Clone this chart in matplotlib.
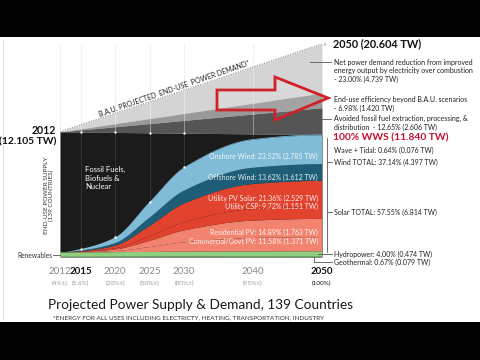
import numpy as np
import matplotlib
matplotlib.use("Agg")
import matplotlib.pyplot as plt
from matplotlib.patches import Polygon, Rectangle
from matplotlib.transforms import blended_transform_factory

plt.rcParams['font.family'] = ['Lato', 'DejaVu Sans']

# ---------------- data ----------------
years = [2012, 2015, 2020, 2025, 2030, 2040, 2050]
year_labels = ["2012", "2015", "2020", "2025", "2030", "2040", "2050"]
pct_labels = ["(4%±)", "(5.6%)", "(20%±)", "(50%±)", "(80%±)", "(95%±)", "(100%)"]

geothermal = [0.02, 0.02, 0.03, 0.04, 0.06, 0.07, 0.079]
hydropower = [0.42, 0.43, 0.44, 0.45, 0.46, 0.47, 0.474]
commercial_pv = [0.00, 0.02, 0.11, 0.47, 0.90, 1.30, 1.371]
residential_pv = [0.00, 0.03, 0.15, 0.60, 1.15, 1.68, 1.763]
utility_csp = [0.00, 0.02, 0.11, 0.45, 0.80, 1.11, 1.151]
utility_pv = [0.00, 0.04, 0.25, 1.00, 1.80, 2.43, 2.529]
offshore_wind = [0.00, 0.06, 0.25, 0.80, 1.25, 1.57, 1.612]
onshore_wind = [0.00, 0.15, 0.55, 1.50, 2.20, 2.70, 2.785]
wave_tidal = [0.00, 0.00, 0.005, 0.02, 0.05, 0.07, 0.076]

demand_years = [2012, 2050]
supply_total = [12.105, 11.840]
avoided_fossil = [0.0, 2.606]
end_use_eff = [0.0, 1.420]
net_reduction = [0.0, 4.739]

# ---------------- figure ----------------
W, H = 480, 360
fig = plt.figure(figsize=(4.8, 3.6), dpi=100, facecolor='black')
fig.patches.append(Rectangle((0, 38 / H), 1, 285 / H, transform=fig.transFigure,
                             facecolor='white', edgecolor='none', zorder=-10))
fig.add_artist(plt.Line2D([3 / W, 3 / W], [1 - 40 / H, 1 - 320 / H], color='#dddddd', lw=0.6, zorder=-5))

def P(x, y):
    return (x / W, 1 - y / H)

ax = fig.add_axes([60 / W, (H - 257) / H, 262 / W, 213 / H])
ax.set_zorder(1)
ax.set_xlim(2012, 2050)
ax.set_ylim(0, 20.604)
ax.axis('off')

def pchip(x, y, xn):
    x = np.asarray(x, float); y = np.asarray(y, float)
    h = np.diff(x); d = np.diff(y) / h
    m = np.zeros_like(y)
    for k in range(1, len(x) - 1):
        if d[k - 1] * d[k] > 0:
            w1 = 2 * h[k] + h[k - 1]; w2 = h[k] + 2 * h[k - 1]
            m[k] = (w1 + w2) / (w1 / d[k - 1] + w2 / d[k])
    idx = np.clip(np.searchsorted(x, xn) - 1, 0, len(x) - 2)
    t = (xn - x[idx]) / h[idx]
    h00 = 2 * t**3 - 3 * t**2 + 1; h10 = t**3 - 2 * t**2 + t
    h01 = -2 * t**3 + 3 * t**2; h11 = t**3 - t**2
    return h00 * y[idx] + h10 * h[idx] * m[idx] + h01 * y[idx + 1] + h11 * h[idx] * m[idx + 1]

xs = np.linspace(2012, 2050, 400)

# faint vertical grid in background
for yr in years[:-1]:
    ax.axvline(yr, ymin=0, ymax=1.0, color='#f1f1f1', lw=0.8, zorder=0.5)

# demand / supply background layers (straight between 2012 and 2050)
s = np.array(supply_total)
l1 = s + np.array(avoided_fossil)
l2 = l1 + np.array(end_use_eff)
l3 = l2 + np.array(net_reduction)
ax.fill_between(demand_years, l2, l3, color='#d4d4d4', lw=0, zorder=1)
ax.fill_between(demand_years, l1, l2, color='#999999', lw=0, zorder=1)
ax.fill_between(demand_years, s, l1, color='#555555', lw=0, zorder=1)
ax.fill_between(demand_years, 0, s, color='#1b1b1b', lw=0, zorder=1)
ax.plot(demand_years, l3, color='#9a9a9a', lw=0.9, ls=(0, (1, 1)), zorder=3)

# vertical lines across grey/black layers
top_at = np.interp(years[1:-1], demand_years, l3)
sup_line = np.interp(years[1:-1], demand_years, supply_total)
ax.vlines(years[1:-1], sup_line, top_at, color='white', lw=0.6, alpha=0.45, zorder=1.6)
ax.vlines(years[1:-1], 0, sup_line, color='white', lw=0.6, alpha=0.13, zorder=1.5)

# WWS stack
layers = [geothermal, hydropower, commercial_pv, residential_pv, utility_csp,
          utility_pv, offshore_wind, onshore_wind, wave_tidal]
colors = ['#6cbf5c', '#8fd07e', '#f2846f', '#f2846f', '#e1432f', '#e1432f',
          '#1d5d77', '#80bbd8', '#80bbd8']
smooth = [np.clip(pchip(years, L, xs), 0, None) for L in layers]
ax.stackplot(xs, *smooth, colors=colors, lw=0, zorder=2)

# white dots
tot = np.sum(np.array(layers), axis=0)
ax.scatter(years[1:5], tot[1:5], s=3, color='white', zorder=4, lw=0)
ax.scatter(years[1:5], sup_line[:4], s=3, color='white', zorder=4, lw=0)

# red arrow (outline)
arrow = [P(217, 90), P(275, 90), P(275, 77), P(328, 98), P(275, 120), P(275, 110), P(217, 110)]
fig.patches.append(Polygon(arrow, closed=True, transform=fig.transFigure,
                           facecolor=(1, 1, 1, 0.10), edgecolor='#d0202a', lw=2.0, zorder=5))

# BAU text along diagonal
fig.text(*P(174, 89), "B.A.U. PROJECTED  END-USE  POWER DEMAND*", fontsize=5.0, color='#222222',
         rotation=19, ha='center', va='center', zorder=6)
fig.text(*P(324, 44), ">", fontsize=5, color='#888888', ha='center', va='center')

# Left labels
fig.text(*P(56, 131), "2012", fontsize=7.6, fontweight='bold', ha='right', va='center', color='#111111')
fig.text(*P(56, 142), "(12.105 TW)", fontsize=7.4, fontweight='bold', ha='right', va='center', color='#111111')
fig.text(*P(49, 195), "END-USE POWER SUPPLY\n(139 COUNTRIES)", fontsize=4.6, rotation=90,
         ha='center', va='center', color='#333333', linespacing=1.1)
fig.text(*P(52, 255), "Renewables", fontsize=4.8, ha='right', va='center', color='#333333')
fig.add_artist(plt.Line2D([53 / W, 60 / W], [1 - 255 / H, 1 - 255 / H], color='#555555', lw=0.6))
fig.text(*P(85, 178), "Fossil Fuels,\nBiofuels &\nNuclear", fontsize=5.5, color='white',
         ha='left', va='center', linespacing=1.25, zorder=6)

# in-layer labels
layer_text = [
    (156, "Onshore Wind: 23.52% (2.785 TW)"),
    (177, "Offshore Wind: 13.62% (1.612 TW)"),
    (198, "Utility PV Solar: 21.36% (2.529 TW)"),
    (206, "Utility CSP: 9.72% (1.151 TW)"),
    (232, "Residential PV: 14.89% (1.763 TW)"),
    (241, "Commercial/Govt PV: 11.58% (1.371 TW)"),
]
for y, t in layer_text:
    fig.text(*P(318, y), t, fontsize=5.0, color='white', ha='right', va='center', alpha=0.9, zorder=6)

# Right annotations
fig.text(*P(333, 44), "2050 (20.604 TW)", fontsize=7.8, fontweight='bold', ha='left', va='center', color='#111111')
fig.text(*P(334, 71), "Net power demand reduction from improved\nenergy output by electricity over combustion\n- 23.00% (4.739 TW)",
         fontsize=5.0, ha='left', va='center', color='#222222', linespacing=1.2)
fig.add_artist(plt.Line2D([310 / W, 331 / W], [1 - 62 / H] * 2, color='#555555', lw=0.6, zorder=6))
fig.text(*P(334, 104), "End-use efficiency beyond B.A.U. scenarios\n- 6.98% (1.420 TW)",
         fontsize=5.0, ha='left', va='center', color='#222222', linespacing=1.2)
fig.text(*P(334, 123), "Avoided fossil fuel extraction, processing, &\ndistribution  - 12.65% (2.606 TW)",
         fontsize=5.0, ha='left', va='center', color='#222222', linespacing=1.2)
fig.add_artist(plt.Line2D([310 / W, 331 / W], [1 - 119 / H] * 2, color='#555555', lw=0.6, zorder=6))
fig.text(*P(333, 138), "100% WWS (11.840 TW)", fontsize=7.4, fontweight='bold', ha='left', va='center', color='#c8102e')
fig.text(*P(334, 150), "Wave + Tidal: 0.64% (0.076 TW)", fontsize=5.0, ha='left', va='center', color='#222222')
fig.text(*P(334, 162), "Wind TOTAL: 37.14% (4.397 TW)", fontsize=5.0, ha='left', va='center', color='#222222')
fig.text(*P(334, 212), "Solar TOTAL: 57.55% (6.814 TW)", fontsize=5.0, ha='left', va='center', color='#222222')
fig.text(*P(334, 254), "Hydropower: 4.00% (0.474 TW)", fontsize=5.0, ha='left', va='center', color='#222222')
fig.text(*P(334, 262), "Geothermal: 0.67% (0.079 TW)", fontsize=5.0, ha='left', va='center', color='#222222')
for seg in [([327, 327], [138, 252]), ([327, 332], [162, 162]), ([327, 332], [212, 212]),
            ([318, 332], [254, 254]), ([314, 314], [257, 262]), ([314, 332], [262, 262])]:
    fig.add_artist(plt.Line2D([v / W for v in seg[0]], [1 - v / H for v in seg[1]],
                              color='#555555', lw=0.6, zorder=6))

# bottom year labels
tr = blended_transform_factory(ax.transData, fig.transFigure)
for yr, lab, pl in zip(years, year_labels, pct_labels):
    bold = lab in ("2015", "2050")
    ax.text(yr, 1 - 272 / H, lab, transform=tr, fontsize=7, ha='center', va='center',
            color='#111111' if bold else '#888888', fontweight='bold' if bold else 'normal')
    ax.text(yr, 1 - 283 / H, pl, transform=tr, fontsize=4.6, ha='center', va='center',
            color='#111111' if lab == "2050" else '#999999')

fig.text(*P(48, 305), "Projected Power Supply & Demand, 139 Countries", fontsize=9.8,
         ha='left', va='center', color='#1a1a1a')
fig.text(*P(53, 318), "*ENERGY FOR ALL USES INCLUDING ELECTRICTY, HEATING, TRANSPORTATION, INDUSTRY",
         fontsize=4.6, ha='left', va='center', color='#333333')

fig.savefig("out.png", dpi=100, facecolor='black')
